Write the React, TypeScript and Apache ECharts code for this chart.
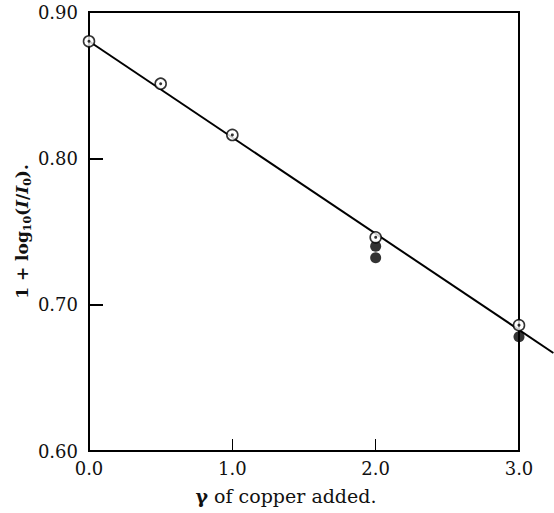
import React, { useEffect, useRef } from "react";
import * as echarts from "echarts";

// Data
const openX = [0.0, 0.5, 1.0, 2.0, 3.0];
const openY = [0.880, 0.851, 0.816, 0.746, 0.686];
const filledX = [2.0, 2.0, 3.0];
const filledY = [0.740, 0.732, 0.678];
const fitX = [0.0, 3.24];
const fitY = [0.880, 0.667];
const xTicks = [0, 1, 2, 3];
const yTicks = [0.6, 0.7, 0.8, 0.9];

const FONT = "DejaVu Serif";

export default function App() {
  const ref = useRef<HTMLDivElement>(null);
  useEffect(() => {
    if (!ref.current) return;
    const chart = echarts.init(ref.current, undefined, { renderer: "svg" });
    const openData = openX.map((x, i) => [x, openY[i]]);
    const filledData = filledX.map((x, i) => [x, filledY[i]]);
    chart.setOption({
      animation: false,
      backgroundColor: "#fff",
      grid: {
        left: 89,
        right: 35,
        top: 12,
        bottom: 62,
        show: true,
        borderColor: "#000",
        borderWidth: 2,
      },
      xAxis: {
        type: "value",
        min: xTicks[0],
        max: xTicks[xTicks.length - 1],
        interval: 1,
        name: "{g|γ} of copper added.",
        nameLocation: "middle",
        nameGap: 35,
        nameTextStyle: {
          fontFamily: FONT,
          fontSize: 19,
          color: "#111",
          padding: [0, 36, 0, 0],
          rich: {
            g: { fontFamily: FONT, fontSize: 19, fontWeight: "bold", color: "#111" },
          },
        },
        axisLine: { show: true, lineStyle: { color: "#000", width: 2 } },
        axisTick: { show: true, inside: true, length: 12, lineStyle: { color: "#000", width: 1 } },
        axisLabel: {
          fontFamily: FONT,
          fontSize: 18,
          color: "#111",
          margin: 8,
          formatter: (v: number) => v.toFixed(1),
        },
        splitLine: { show: false },
      },
      yAxis: {
        type: "value",
        min: yTicks[0],
        max: yTicks[yTicks.length - 1],
        interval: 0.1,
        name: "{b|1 + log}{s|10}{b|(}{i|I}{b|/}{i|I}{s|0}{b|).}",
        nameLocation: "middle",
        nameGap: 56,
        nameMoveOverlap: false,
        nameTextStyle: {
          fontFamily: FONT,
          fontSize: 17,
          color: "#111",
          rich: {
            b: { fontFamily: FONT, fontSize: 17, fontWeight: "bold", color: "#111", lineHeight: 22 },
            i: { fontFamily: FONT, fontSize: 17, fontWeight: "bold", fontStyle: "italic", color: "#111", lineHeight: 22 },
            s: { fontFamily: FONT, fontSize: 11, fontWeight: "bold", color: "#111", lineHeight: 10, verticalAlign: "bottom" },
          },
        },
        axisLine: { show: true, lineStyle: { color: "#000", width: 2 } },
        axisTick: { show: true, inside: true, length: 14, lineStyle: { color: "#000", width: 2 } },
        axisLabel: {
          fontFamily: FONT,
          fontSize: 18,
          color: "#111",
          margin: 11,
          formatter: (v: number) => v.toFixed(2),
        },
        splitLine: { show: false },
      },
      series: [
        {
          type: "custom",
          clip: false,
          silent: true,
          data: [[fitX[0], fitY[0], fitX[1], fitY[1]]],
          renderItem: (params: any, api: any) => {
            const p0 = api.coord([api.value(0), api.value(1)]);
            const p1 = api.coord([api.value(2), api.value(3)]);
            return {
              type: "line",
              shape: { x1: p0[0], y1: p0[1], x2: p1[0], y2: p1[1] },
              style: { stroke: "#000", lineWidth: 2 },
            };
          },
          z: 1,
        },
        {
          type: "scatter",
          data: filledData,
          symbol: "circle",
          symbolSize: 11,
          clip: false,
          itemStyle: { color: "#000" },
          z: 2,
        },
        {
          type: "scatter",
          data: openData,
          symbol: "circle",
          symbolSize: 11,
          clip: false,
          itemStyle: { color: "#fff", borderColor: "#000", borderWidth: 1.6 },
          z: 3,
        },
        {
          type: "scatter",
          data: openData,
          symbol: "circle",
          symbolSize: 3,
          clip: false,
          itemStyle: { color: "#000" },
          z: 4,
        },
      ],
    });
    return () => chart.dispose();
  }, []);
  return (
    <div
      ref={ref}
      style={{ position: "fixed", left: 0, top: 0, width: 554, height: 513, background: "#fff" }}
    />
  );
}
